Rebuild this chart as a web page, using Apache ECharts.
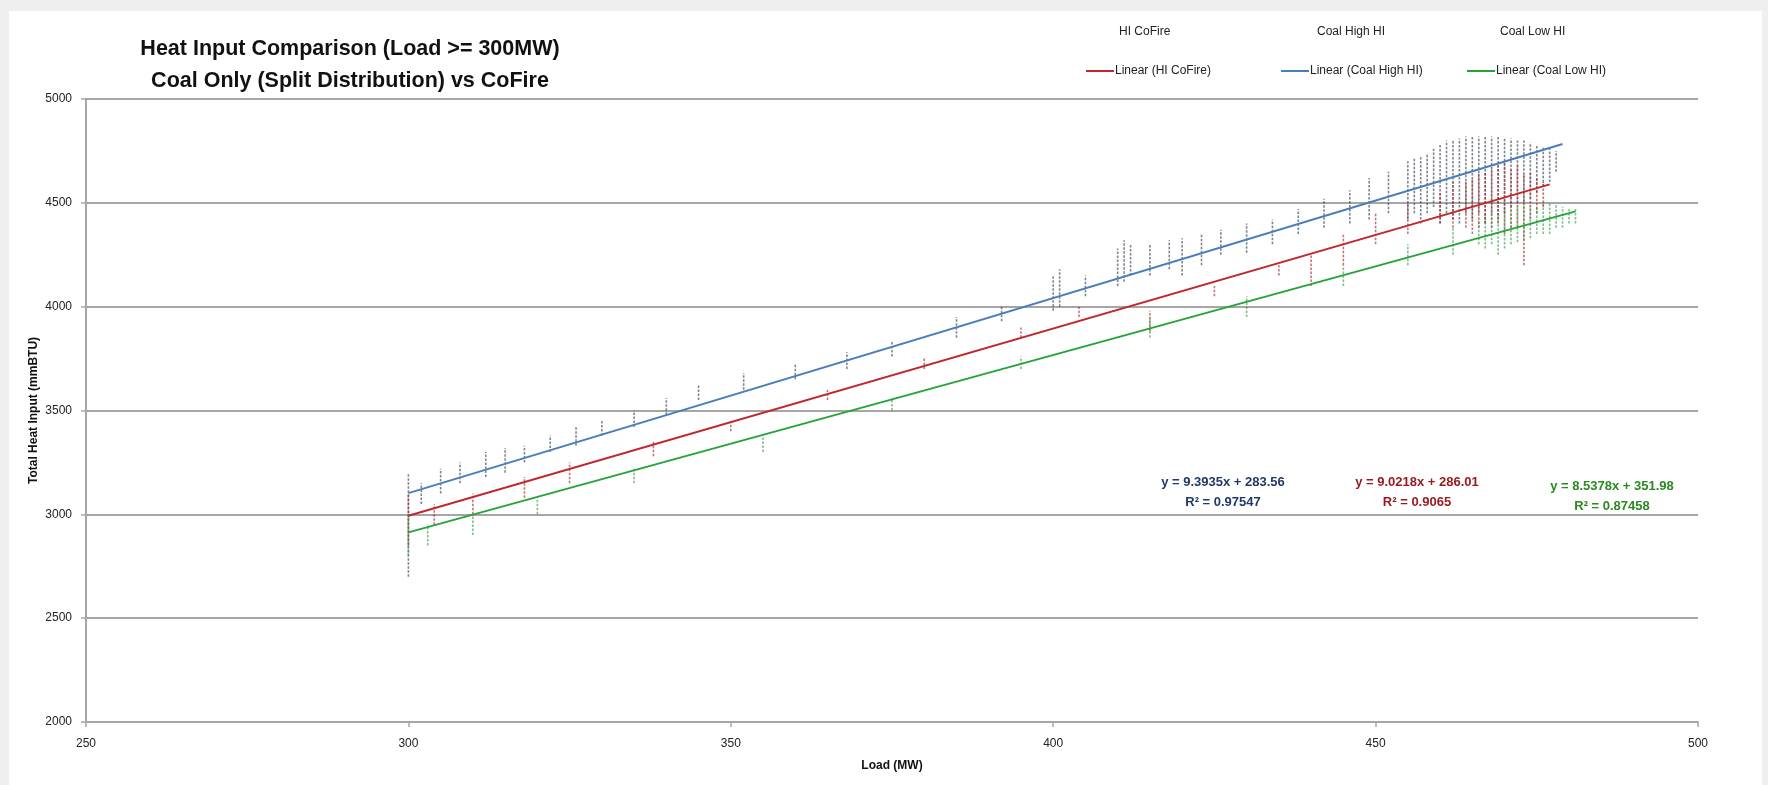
<!DOCTYPE html>
<html>
<head>
<meta charset="utf-8">
<script src="https://cdn.jsdelivr.net/npm/echarts@6/dist/echarts.min.js"></script>
<style>
html,body{margin:0;padding:0;background:#efefef;}
#chart{width:1768px;height:785px;}
</style>
</head>
<body>
<div id="chart"></div>
<script>
// ---- data ----
const seriesNames = ['HI CoFire', 'Coal High HI', 'Coal Low HI'];
const trendNames = ['Linear (HI CoFire)', 'Linear (Coal High HI)', 'Linear (Coal Low HI)'];
const equations = ['y = 9.0218x + 286.01\nR² = 0.9065', 'y = 9.3935x + 283.56\nR² = 0.97547', 'y = 8.5378x + 351.98\nR² = 0.87458'];

// point streaks: [load, lowest heat input, highest heat input]
const coFireStreaks = [
  [300, 2850, 3100], [304, 2950, 3050], [310, 3000, 3100], [318, 3080, 3180], [325, 3150, 3250],
  [338, 3280, 3350], [350, 3400, 3450], [365, 3550, 3600], [380, 3700, 3750], [395, 3850, 3900],
  [404, 3950, 4000], [415, 3880, 3980], [425, 4050, 4100], [435, 4150, 4200], [440, 4100, 4250],
  [445, 4200, 4350], [450, 4300, 4450], [455, 4350, 4500], [460, 4400, 4550], [462, 4380, 4600],
  [464, 4380, 4600], [465, 4350, 4620], [466, 4380, 4640], [467, 4400, 4650], [468, 4380, 4660],
  [469, 4400, 4680], [470, 4350, 4700], [471, 4380, 4660], [472, 4380, 4680], [473, 4200, 4640],
  [474, 4420, 4650], [475, 4450, 4620], [476, 4480, 4600]
];
const coalHighStreaks = [
  [300, 2700, 3200], [302, 3050, 3150], [305, 3100, 3220], [308, 3150, 3250], [312, 3180, 3300],
  [315, 3200, 3320], [318, 3250, 3330], [322, 3300, 3380], [326, 3330, 3420], [330, 3380, 3450],
  [335, 3420, 3500], [340, 3480, 3560], [345, 3550, 3620], [352, 3600, 3680], [360, 3650, 3720],
  [368, 3700, 3780], [375, 3760, 3830], [385, 3850, 3950], [392, 3930, 4000], [400, 3980, 4150],
  [401, 4000, 4180], [405, 4050, 4150], [410, 4100, 4280], [411, 4120, 4320], [412, 4150, 4300],
  [415, 4150, 4300], [418, 4180, 4320], [420, 4150, 4330], [423, 4200, 4350], [426, 4250, 4370],
  [430, 4260, 4400], [434, 4300, 4420], [438, 4350, 4470], [442, 4380, 4520], [446, 4400, 4560],
  [449, 4420, 4620], [452, 4450, 4650], [455, 4420, 4700], [456, 4450, 4720], [457, 4400, 4720],
  [458, 4450, 4740], [459, 4480, 4760], [460, 4400, 4780], [461, 4450, 4800], [462, 4420, 4800],
  [463, 4400, 4810], [464, 4450, 4820], [465, 4420, 4820], [466, 4450, 4820], [467, 4400, 4820],
  [468, 4450, 4820], [469, 4420, 4820], [470, 4450, 4810], [471, 4480, 4810], [472, 4500, 4800],
  [473, 4500, 4800], [474, 4520, 4790], [475, 4550, 4780], [476, 4580, 4770], [477, 4600, 4760],
  [478, 4650, 4750]
];
const coalLowStreaks = [
  [300, 2800, 3000], [303, 2850, 2950], [310, 2900, 3000], [320, 3000, 3080], [335, 3150, 3220],
  [355, 3300, 3380], [375, 3500, 3560], [395, 3700, 3760], [415, 3850, 3950], [430, 3950, 4050],
  [445, 4100, 4200], [455, 4200, 4300], [462, 4250, 4380], [466, 4300, 4420], [467, 4280, 4440],
  [468, 4300, 4450], [469, 4250, 4450], [470, 4280, 4470], [471, 4300, 4480], [472, 4310, 4490],
  [473, 4320, 4500], [474, 4330, 4490], [475, 4350, 4480], [476, 4350, 4500], [477, 4350, 4500],
  [478, 4380, 4490], [479, 4380, 4480], [480, 4400, 4470], [481, 4400, 4470]
];

// trendline end points [load, heat input]
const coFireTrend = [[300, 2993], [477, 4589]];
const coalHighTrend = [[300, 3102], [479, 4783]];
const coalLowTrend = [[300, 2913], [481, 4459]];

const xMin = 250, xMax = 500, xStep = 50;
const yMin = 2000, yMax = 5000, yStep = 500;

// ---- styles ----
const FONT = '"Liberation Sans Narrow", "Liberation Sans", sans-serif';
const pointColors = ['#a01e24', '#2f3a4a', '#2c9a3a'];
const trendColors = ['#c0282d', '#4a7ebb', '#27a33a'];
const eqColors = ['#98181e', '#1f3a68', '#2a8a1f'];

function streakRenderer(color) {
  return function (params, api) {
    const x = api.value(0), lo = api.value(1), hi = api.value(2);
    const p1 = api.coord([x, lo]);
    const p2 = api.coord([x, hi]);
    return {
      type: 'line',
      shape: { x1: p1[0], y1: p1[1], x2: p2[0], y2: p2[1] },
      style: { stroke: color, lineWidth: 1.6, lineDash: [2.5, 1.5], opacity: 0.62 }
    };
  };
}

const streakData = [coFireStreaks, coalHighStreaks, coalLowStreaks];
const trendData = [coFireTrend, coalHighTrend, coalLowTrend];

const series = [];
[1, 0, 2].forEach(function (i) {
  series.push({
    name: seriesNames[i], type: 'custom', renderItem: streakRenderer(pointColors[i]),
    encode: { x: 0, y: [1, 2] }, data: streakData[i], itemStyle: { color: pointColors[i] }, silent: true
  });
});
[0, 1, 2].forEach(function (i) {
  series.push({
    name: trendNames[i], type: 'line', data: trendData[i], showSymbol: false, z: 5,
    lineStyle: { color: trendColors[i], width: 2 }, itemStyle: { color: trendColors[i] }
  });
});

const legendTextStyle = { fontFamily: FONT, fontSize: 12, color: '#222' };
const legendTop = [[1114, 26], [1312, 26], [1495, 26]];
const legendBottom = [[1086, 65], [1281, 65], [1467, 65]];
const legends = [];
seriesNames.forEach(function (n, i) {
  legends.push({ data: [n], left: legendTop[i][0], top: legendTop[i][1], icon: 'none', itemWidth: 0, itemHeight: 0,
    selectedMode: false, textStyle: legendTextStyle, padding: 0 });
});
trendNames.forEach(function (n, i) {
  legends.push({ data: [n], left: legendBottom[i][0], top: legendBottom[i][1], icon: 'rect', itemWidth: 28, itemHeight: 2,
    selectedMode: false, textStyle: Object.assign({ padding: [0, 0, 0, -4] }, legendTextStyle), padding: 0 });
});

const eqPos = [[1417, 472], [1223, 472], [1612, 476]];
const graphics = [
  { type: 'rect', shape: { x: 9, y: 11, width: 1753, height: 774 }, style: { fill: '#ffffff' }, z: -10, silent: true }
];
equations.forEach(function (t, i) {
  graphics.push({ type: 'text', x: eqPos[i][0], y: eqPos[i][1], z: 10,
    style: { text: t, fill: eqColors[i], font: 'bold 13px ' + FONT, align: 'center', verticalAlign: 'top', lineHeight: 20 } });
});

const chart = echarts.init(document.getElementById('chart'));
chart.setOption({
  animation: false,
  backgroundColor: 'transparent',
  title: {
    text: 'Heat Input Comparison (Load >= 300MW)\nCoal Only (Split Distribution) vs CoFire',
    left: 345, top: 28, textAlign: 'center',
    textStyle: { fontFamily: FONT, fontWeight: 'bold', fontSize: 21.5, color: '#111', lineHeight: 32 }
  },
  legend: legends,
  graphic: graphics,
  grid: { left: 86, right: 70, top: 99, bottom: 63, containLabel: false },
  xAxis: {
    type: 'value', min: xMin, max: xMax, interval: xStep,
    name: 'Load (MW)', nameLocation: 'middle', nameGap: 38, nameMoveOverlap: false,
    nameTextStyle: { fontFamily: FONT, fontWeight: 'bold', fontSize: 12, color: '#111' },
    axisLine: { show: true, lineStyle: { color: '#a6a6a6', width: 2 } },
    axisTick: { show: true, length: 5, lineStyle: { color: '#a6a6a6', width: 1.5 } },
    axisLabel: { fontFamily: FONT, fontSize: 12, color: '#222', margin: 16, formatter: function (v) { return String(v); } },
    splitLine: { show: false }
  },
  yAxis: {
    type: 'value', min: yMin, max: yMax, interval: yStep,
    name: 'Total Heat Input (mmBTU)', nameLocation: 'middle', nameGap: 46, nameMoveOverlap: false,
    nameTextStyle: { fontFamily: FONT, fontWeight: 'bold', fontSize: 12, color: '#111' },
    axisLine: { show: true, lineStyle: { color: '#a6a6a6', width: 2 } },
    axisTick: { show: true, length: 5, lineStyle: { color: '#a6a6a6', width: 1.5 } },
    axisLabel: { fontFamily: FONT, fontSize: 12, color: '#222', margin: 14, formatter: function (v) { return String(v); } },
    splitLine: { show: true, lineStyle: { color: '#a6a6a6', width: 2 } }
  },
  series: series
});
</script>
</body>
</html>
